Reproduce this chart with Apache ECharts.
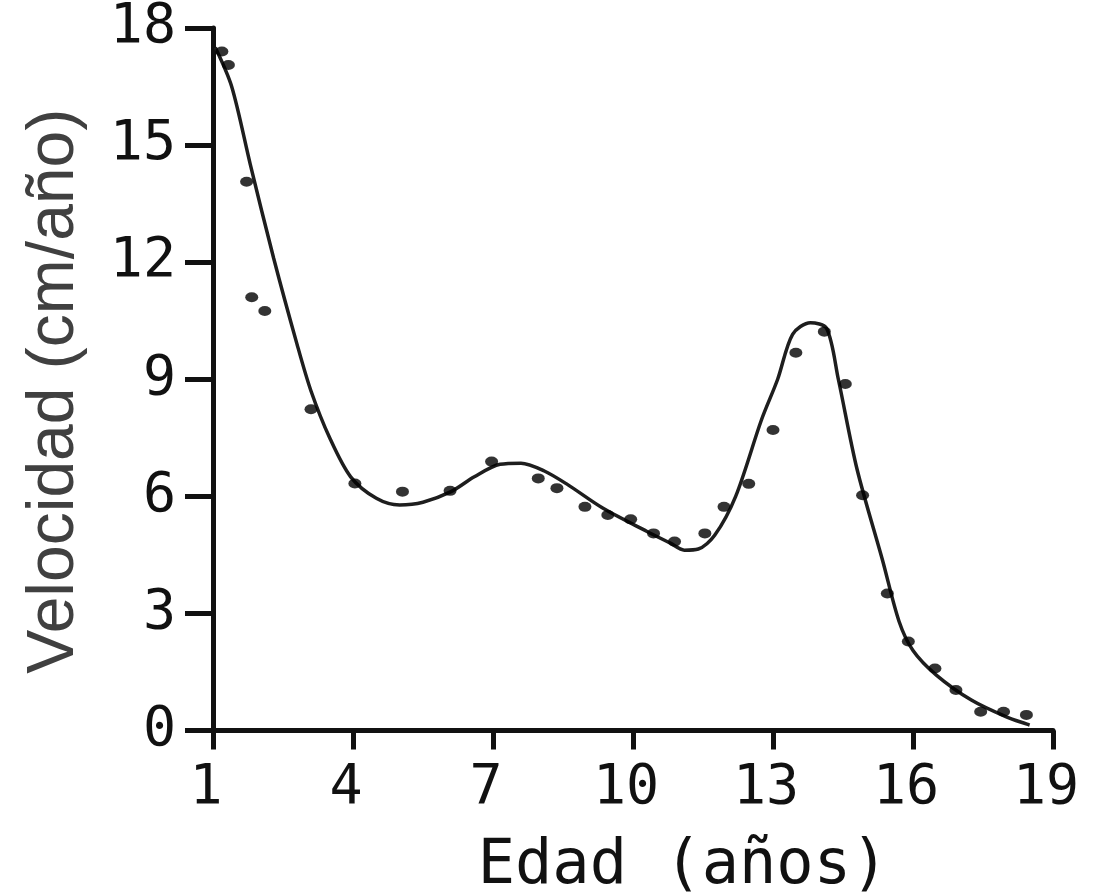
<!DOCTYPE html>
<html>
<head>
<meta charset="utf-8">
<title>Velocidad de crecimiento</title>
<script src="https://cdn.jsdelivr.net/npm/echarts@6/dist/echarts.min.js"></script>
<style>
  html, body { margin: 0; padding: 0; background: #ffffff; }
  #chart { width: 1100px; height: 892px; }
</style>
</head>
<body>
<div id="chart"></div>
<script>
// Measured growth velocity (cm/año) at each age (años)
const measuredAge = [1.19, 1.33, 1.72, 1.83, 2.11, 3.10, 4.04, 5.06, 6.08, 6.97, 7.97,
  8.37, 8.97, 9.46, 9.95, 10.44, 10.89, 11.54, 11.95, 12.48, 13.00, 13.49, 14.10,
  14.55, 14.92, 15.45, 15.90, 16.47, 16.92, 17.45, 17.94, 18.43];
const measuredVelocity = [17.4, 17.05, 14.06, 11.1, 10.75, 8.23, 6.33, 6.12, 6.14, 6.89, 6.46,
  6.21, 5.73, 5.52, 5.41, 5.05, 4.84, 5.05, 5.73, 6.32, 7.7, 9.68, 10.22,
  8.88, 6.03, 3.51, 2.28, 1.59, 1.04, 0.48, 0.48, 0.4];

// Fitted velocity curve
const curveAge = [1.05, 1.4, 1.8, 2.3, 2.8, 3.1, 3.5, 3.95, 4.5, 5.0, 5.5, 6.1, 6.6, 7.15,
  7.6, 8.1, 8.6, 9.35, 10.3, 10.8, 11.1, 11.4, 11.75, 12.2, 12.75, 13.1, 13.42, 13.8,
  14.15, 14.4, 14.8, 15.35, 15.7, 16.0, 16.5, 17.25, 18.0, 18.5];
const curveVelocity = [17.5, 16.5, 14.5, 12.1, 9.9, 8.7, 7.5, 6.5, 5.95, 5.78, 5.85, 6.12, 6.5, 6.82,
  6.85, 6.65, 6.3, 5.7, 5.1, 4.8, 4.62, 4.65, 5.0, 6.0, 7.95, 9.0, 10.15, 10.45,
  10.3, 9.0, 6.7, 4.35, 2.8, 2.05, 1.42, 0.78, 0.35, 0.14];

const xName = 'Edad (años)';
const yName = 'Velocidad (cm/año)';

const zip = (xs, ys) => xs.map((x, i) => [x, ys[i]]);

const ink = '#111111';
const monoFont = '"DejaVu Sans Mono", "Liberation Mono", monospace';

const chart = echarts.init(document.getElementById('chart'), null, { renderer: 'canvas' });

chart.setOption({
  backgroundColor: '#ffffff',
  animation: false,
  grid: {
    left: 213, right: 47, top: 28, bottom: 161.5,
    containLabel: false, outerBoundsMode: 'none'
  },
  xAxis: {
    type: 'value',
    min: 1,
    max: 19,
    interval: 3,
    name: xName,
    nameLocation: 'middle',
    nameGap: 105,
    nameTextStyle: {
      fontFamily: monoFont, fontSize: 62, color: ink,
      padding: [0, 0, 0, 100]
    },
    axisLine: { show: true, onZero: false, lineStyle: { color: ink, width: 5 } },
    axisTick: { show: true, inside: false, length: 19, lineStyle: { color: ink, width: 5 } },
    axisLabel: {
      fontFamily: monoFont, fontSize: 55, color: ink, margin: 31,
      padding: [0, 14, 0, 0]
    },
    splitLine: { show: false }
  },
  yAxis: {
    type: 'value',
    min: 0,
    max: 18,
    interval: 3,
    name: yName,
    nameLocation: 'middle',
    nameGap: 125,
    nameTextStyle: {
      fontFamily: '"Liberation Sans", Arial, sans-serif', fontSize: 66, color: '#404040',
      padding: [0, 24, 0, 0]
    },
    axisLine: { show: true, onZero: false, lineStyle: { color: ink, width: 5 } },
    axisTick: { show: true, inside: false, length: 28, lineStyle: { color: ink, width: 5 } },
    axisLabel: {
      fontFamily: monoFont, fontSize: 55, color: ink, margin: 37,
      padding: [14, 0, 0, 0]
    },
    splitLine: { show: false }
  },
  series: [
    {
      type: 'line',
      data: zip(curveAge, curveVelocity),
      smooth: 0.3,
      showSymbol: false,
      lineStyle: { color: '#1e1e1e', width: 3.5 },
      z: 2
    },
    {
      type: 'scatter',
      data: zip(measuredAge, measuredVelocity),
      symbol: 'circle',
      symbolSize: [13, 10],
      itemStyle: { color: '#000000' },
      z: 3
    }
  ]
});
</script>
</body>
</html>
